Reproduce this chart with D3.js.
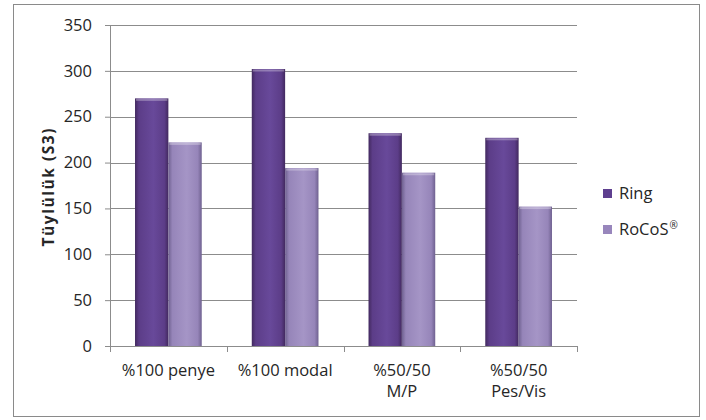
<!DOCTYPE html>
<html>
<head>
<meta charset="utf-8">
<script src="https://cdn.jsdelivr.net/npm/d3@7"></script>
<style>
  html, body { margin: 0; padding: 0; background: #fff; }
  text { font-family: "Open Sans", Lato, sans-serif; fill: #262626; }
</style>
</head>
<body>
<svg id="chart" width="706" height="420"></svg>
<script>
// Hairiness (S3) by yarn type, ring vs. RoCoS spinning
const categories = [["%100 penye"], ["%100 modal"], ["%50/50", "M/P"], ["%50/50", "Pes/Vis"]];
const seriesNames = ["Ring", "RoCoS"];
const ringValues = [270, 302, 232, 227];
const rocosValues = [222, 194, 189, 152];
const yTicks = [0, 50, 100, 150, 200, 250, 300, 350];

const svg = d3.select("#chart");
const margin = { left: 110, right: 129, top: 25, bottom: 74 };
const W = 706, H = 420;
const plotW = W - margin.left - margin.right;
const plotH = H - margin.top - margin.bottom;

// outer frame
svg.append("rect").attr("x", 13.5).attr("y", 4.5).attr("width", 686).attr("height", 412)
  .attr("fill", "#fff").attr("stroke", "#8a8a8a").attr("stroke-width", 1);

const defs = svg.append("defs");
function barGradient(id, edge, mid, light) {
  const g = defs.append("linearGradient").attr("id", id).attr("x1", 0).attr("x2", 1).attr("y1", 0).attr("y2", 0);
  g.append("stop").attr("offset", "0%").attr("stop-color", edge);
  g.append("stop").attr("offset", "12%").attr("stop-color", mid);
  g.append("stop").attr("offset", "55%").attr("stop-color", light);
  g.append("stop").attr("offset", "88%").attr("stop-color", mid);
  g.append("stop").attr("offset", "100%").attr("stop-color", edge);
}
barGradient("gRing", "#42295f", "#5c3d88", "#68499a");
barGradient("gRocos", "#6f6190", "#9685b9", "#a595c6");
const fills = ["url(#gRing)", "url(#gRocos)"];
const legendFills = ["#5e3f8f", "#9886bc"];

const g = svg.append("g").attr("transform", `translate(${margin.left},${margin.top})`);

const x0 = d3.scaleBand().domain(d3.range(categories.length)).range([0, plotW]).paddingInner(0).paddingOuter(0);
const x1 = d3.scaleBand().domain([0, 1]).range([0, x0.bandwidth()]).paddingOuter(0.75).paddingInner(0);
const y = d3.scaleLinear().domain([0, 350]).range([plotH, 0]);

// gridlines
g.append("g").selectAll("line").data(yTicks.filter(d => d > 0)).join("line")
  .attr("x1", 0).attr("x2", plotW)
  .attr("y1", d => Math.round(y(d)) + 0.5).attr("y2", d => Math.round(y(d)) + 0.5)
  .attr("stroke", "#8c8c8c").attr("stroke-width", 1);

// bars
const data = categories.map((c, i) => [ringValues[i], rocosValues[i]]);
const groups = g.append("g").selectAll("g").data(data).join("g")
  .attr("transform", (d, i) => `translate(${x0(i)},0)`);
groups.selectAll("rect").data(d => d.map((v, s) => ({ v, s }))).join("rect")
  .attr("x", d => x1(d.s))
  .attr("width", x1.bandwidth())
  .attr("y", d => y(d.v))
  .attr("height", d => plotH - y(d.v))
  .attr("fill", d => fills[d.s]);
// top highlight
groups.selectAll("line.top").data(d => d.map((v, s) => ({ v, s }))).join("line")
  .attr("class", "top")
  .attr("x1", d => x1(d.s) + 1).attr("x2", d => x1(d.s) + x1.bandwidth() - 1)
  .attr("y1", d => y(d.v) + 1.5).attr("y2", d => y(d.v) + 1.5)
  .attr("stroke", "rgba(255,255,255,0.3)").attr("stroke-width", 2);

// y axis
const yAxis = g.append("g")
  .call(d3.axisLeft(y).tickValues(yTicks).tickSize(5).tickPadding(13));
yAxis.select(".domain").attr("stroke", "#8c8c8c");
yAxis.selectAll(".tick line").attr("stroke", "#8c8c8c");
yAxis.selectAll(".tick text").attr("font-size", 16.5).attr("fill", "#262626")
  .attr("font-family", "'Open Sans', sans-serif");

// x axis
const xAxis = g.append("g").attr("transform", `translate(0,${plotH})`);
xAxis.append("line").attr("x1", 0).attr("x2", plotW).attr("y1", 0.5).attr("y2", 0.5).attr("stroke", "#8c8c8c");
xAxis.selectAll("line.tk").data(d3.range(categories.length + 1)).join("line")
  .attr("class", "tk")
  .attr("x1", i => Math.round(i * x0.step()) + 0.5).attr("x2", i => Math.round(i * x0.step()) + 0.5)
  .attr("y1", 0).attr("y2", 6).attr("stroke", "#8c8c8c");
const xl = xAxis.selectAll("text").data(categories).join("text")
  .attr("x", (d, i) => x0(i) + x0.bandwidth() / 2)
  .attr("y", 30)
  .attr("text-anchor", "middle")
  .attr("font-size", 16.5);
xl.selectAll("tspan").data(d => d).join("tspan")
  .attr("x", function () { return d3.select(this.parentNode).attr("x"); })
  .attr("dy", (d, i) => i === 0 ? 0 : 21)
  .text(d => d);

// y axis title
svg.append("text")
  .attr("transform", `translate(54,${margin.top + plotH / 2 + 2}) rotate(-90)`)
  .attr("text-anchor", "middle")
  .attr("font-size", 15.5).attr("font-weight", "bold")
  .attr("textLength", 118).attr("lengthAdjust", "spacing")
  .text("Tüylülük (S3)");

// legend
const legend = svg.append("g").attr("transform", "translate(603,186)");
const li = legend.selectAll("g").data(seriesNames).join("g")
  .attr("transform", (d, i) => `translate(0,${i * 36})`);
li.append("rect").attr("width", 9).attr("height", 9).attr("y", 3)
  .attr("fill", (d, i) => legendFills[i]);
const lt = li.append("text").attr("x", 16).attr("y", 13).attr("font-size", 16.5).text(d => d);
lt.filter((d, i) => i === 1).append("tspan")
  .attr("font-size", 10).attr("dy", -6).attr("dx", 1).text("\u00ae");
</script>
</body>
</html>
